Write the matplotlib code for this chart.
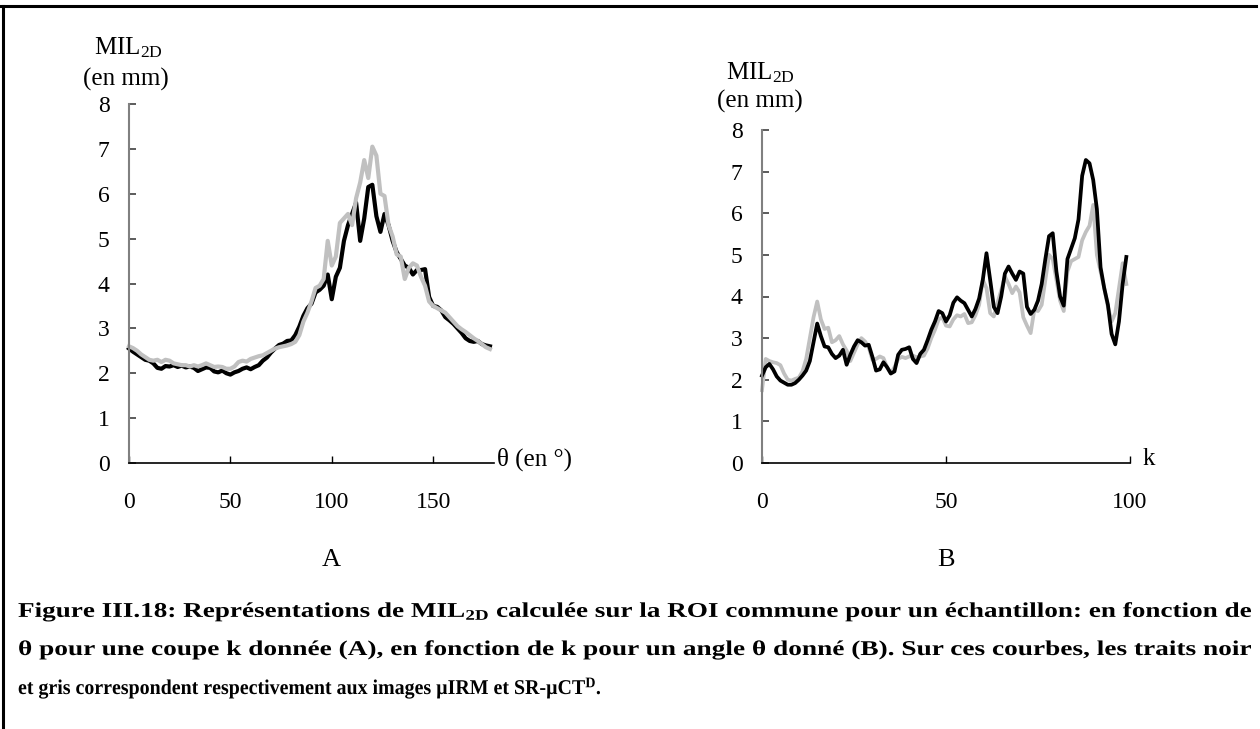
import matplotlib.pyplot as plt
import matplotlib.transforms as mtransforms
from matplotlib.lines import Line2D
from matplotlib.patches import PathPatch
from matplotlib.textpath import TextPath
from matplotlib.font_manager import FontProperties

plt.rcParams['font.family'] = ['Liberation Serif', 'DejaVu Serif']
plt.rcParams['mathtext.fontset'] = 'custom'
plt.rcParams['mathtext.rm'] = 'Liberation Serif'
plt.rcParams['mathtext.it'] = 'Liberation Serif:italic'
plt.rcParams['mathtext.bf'] = 'Liberation Serif:bold'

# MIL2D as a function of theta (slice k fixed)
theta = list(range(0, 180, 2))
mil_theta_irm = [2.55, 2.48, 2.42, 2.36, 2.30, 2.28, 2.22, 2.12, 2.10, 2.16,
                 2.15, 2.18, 2.14, 2.17, 2.13, 2.15, 2.12, 2.05, 2.09, 2.13,
                 2.12, 2.04, 2.02, 2.06, 2.00, 1.97, 2.02, 2.05, 2.10, 2.13,
                 2.09, 2.14, 2.18, 2.28, 2.35, 2.46, 2.55, 2.63, 2.66, 2.72,
                 2.73, 2.85, 3.04, 3.28, 3.45, 3.55, 3.80, 3.86, 3.95, 4.20,
                 3.65, 4.15, 4.35, 4.95, 5.30, 5.55, 5.80, 4.95, 5.45, 6.15,
                 6.20, 5.50, 5.15, 5.55, 5.30, 4.95, 4.70, 4.55, 4.40, 4.35,
                 4.20, 4.30, 4.30, 4.32, 3.70, 3.50, 3.48, 3.40, 3.25, 3.18,
                 3.10, 3.00, 2.90, 2.78, 2.72, 2.70, 2.72, 2.65, 2.62, 2.60]
mil_theta_ct = [2.60, 2.56, 2.50, 2.42, 2.36, 2.30, 2.28, 2.30, 2.25, 2.30,
                2.28, 2.22, 2.20, 2.18, 2.18, 2.15, 2.18, 2.15, 2.18, 2.22,
                2.18, 2.14, 2.15, 2.14, 2.10, 2.10, 2.15, 2.25, 2.28, 2.26,
                2.32, 2.35, 2.38, 2.40, 2.45, 2.50, 2.55, 2.58, 2.60, 2.62,
                2.65, 2.70, 2.85, 3.15, 3.35, 3.60, 3.90, 3.95, 4.10, 4.95,
                4.40, 4.60, 5.35, 5.45, 5.55, 5.30, 5.90, 6.25, 6.75, 6.35,
                7.05, 6.85, 6.00, 5.95, 5.30, 5.05, 4.65, 4.60, 4.10, 4.35,
                4.45, 4.40, 4.15, 3.95, 3.60, 3.50, 3.45, 3.40, 3.35, 3.25,
                3.15, 3.05, 2.98, 2.92, 2.85, 2.78, 2.72, 2.65, 2.58, 2.54]

# MIL2D as a function of slice k (angle theta fixed)
k = list(range(0, 100))
mil_k_irm = [2.10, 2.30, 2.38, 2.25, 2.08, 1.98, 1.93, 1.88, 1.88, 1.92,
             2.00, 2.10, 2.22, 2.45, 2.90, 3.35, 3.05, 2.80, 2.78, 2.62,
             2.52, 2.58, 2.72, 2.36, 2.60, 2.80, 2.95, 2.90, 2.82, 2.84,
             2.55, 2.22, 2.25, 2.42, 2.30, 2.15, 2.20, 2.60, 2.72, 2.74,
             2.78, 2.50, 2.40, 2.62, 2.72, 2.95, 3.20, 3.40, 3.65, 3.60,
             3.40, 3.55, 3.85, 3.98, 3.90, 3.84, 3.68, 3.52, 3.70, 3.95,
             4.40, 5.04, 4.40, 3.75, 3.60, 4.00, 4.55, 4.72, 4.55, 4.40,
             4.60, 4.55, 3.75, 3.58, 3.68, 3.90, 4.30, 4.90, 5.45, 5.52,
             4.60, 4.00, 3.78, 4.90, 5.15, 5.40, 5.85, 6.90, 7.28, 7.20,
             6.80, 6.10, 4.70, 4.20, 3.80, 3.10, 2.85, 3.40, 4.30, 4.95]
mil_k_ct = [1.75, 2.50, 2.45, 2.42, 2.40, 2.35, 2.15, 2.00, 1.98, 2.02,
            2.05, 2.20, 2.50, 3.00, 3.50, 3.88, 3.45, 3.22, 3.25, 2.90,
            2.95, 3.05, 2.85, 2.70, 2.45, 2.65, 2.85, 3.00, 2.92, 2.78,
            2.48, 2.50, 2.56, 2.52, 2.30, 2.15, 2.30, 2.50, 2.55, 2.52,
            2.56, 2.58, 2.54, 2.56, 2.58, 2.75, 3.00, 3.20, 3.45, 3.50,
            3.30, 3.28, 3.45, 3.55, 3.52, 3.58, 3.36, 3.38, 3.55, 3.80,
            4.40, 4.20, 3.60, 3.52, 3.85, 4.15, 4.48, 4.30, 4.08, 4.24,
            4.10, 3.50, 3.30, 3.12, 3.68, 3.65, 3.80, 4.40, 5.00, 4.90,
            4.40, 3.90, 3.65, 4.60, 4.85, 4.90, 4.95, 5.35, 5.55, 5.70,
            6.20, 5.00, 4.60, 4.20, 3.75, 3.40, 3.60, 4.20, 4.80, 4.30]

y_ticks = list(range(0, 9))
theta_ticks = [0, 50, 100, 150]
k_ticks = [0, 50, 100]

W, H = 1260, 729
fig = plt.figure(figsize=(W / 100, H / 100), dpi=100)


def px_box(x0, x1, y_top, y_bot):
    return [x0 / W, 1 - y_bot / H, (x1 - x0) / W, (y_bot - y_top) / H]


def fx(x):
    return x / W


def fy(y):
    return 1 - y / H


def style_axes(ax, xmax, xticks):
    ax.set_xlim(0, xmax)
    ax.set_ylim(0, 8)
    ax.patch.set_visible(False)
    for s in ('top', 'right'):
        ax.spines[s].set_visible(False)
    ax.spines['left'].set_color('#808080')
    ax.spines['left'].set_linewidth(1.5)
    ax.spines['bottom'].set_color('black')
    ax.spines['bottom'].set_linewidth(1.2)
    ax.set_xticks(xticks)
    ax.set_yticks(y_ticks)
    ax.tick_params(axis='y', direction='in', length=5, width=1.2,
                   color='#404040', pad=14, labelsize=17)
    ax.tick_params(axis='x', direction='in', length=5, width=1.0,
                   color='black', pad=21, labelsize=17)


ax_a = fig.add_axes(px_box(129, 494, 104, 463))
ax_a.plot(theta, mil_theta_irm, color='black', lw=3.0, clip_on=False)
ax_a.plot(theta, mil_theta_ct, color='#c0c0c0', lw=3.0, clip_on=False)
style_axes(ax_a, 180, theta_ticks)

ax_b = fig.add_axes(px_box(762, 1130, 130, 463))
ax_b.plot(k, mil_k_ct, color='#c0c0c0', lw=2.7, clip_on=False)
ax_b.plot(k, mil_k_irm, color='black', lw=2.7, clip_on=False)
style_axes(ax_b, 100, k_ticks)

# axis titles
fig.text(fx(128), fy(48), r'MIL$_{\mathrm{2D}}$', ha='center', va='center', fontsize=18)
fig.text(fx(126), fy(79), '(en mm)', ha='center', va='center', fontsize=18)
fig.text(fx(760), fy(73), r'MIL$_{\mathrm{2D}}$', ha='center', va='center', fontsize=18)
fig.text(fx(760), fy(101), '(en mm)', ha='center', va='center', fontsize=18)
fig.text(fx(497), fy(459), 'θ (en °)', ha='left', va='center', fontsize=18)
fig.text(fx(1143), fy(459), 'k', ha='left', va='center', fontsize=18)

fig.text(fx(331), fy(560), 'A', ha='center', va='center', fontsize=19)
fig.text(fx(946), fy(560), 'B', ha='center', va='center', fontsize=19)

# caption: bold serif, each line drawn as a path stretched between x0 and x1
cap_prop = FontProperties(family='Liberation Serif', weight='bold')
cap_size = 21  # px


def caption_line(s, x0, y_base, x1):
    tp = TextPath((0, 0), s, size=cap_size, prop=cap_prop)
    sx = (x1 - x0) / tp.get_extents().x1
    tr = mtransforms.Affine2D().scale(sx, 1).translate(x0, H - y_base)
    fig.add_artist(PathPatch(tp, transform=tr, facecolor='black',
                             edgecolor='none', lw=0))


caption_line(r'Figure III.18: Représentations de MIL$_{\mathbf{2D}}$ calculée sur la ROI '
             r'commune pour un échantillon: en fonction de', 18, 617, 1251)
caption_line('θ pour une coupe k donnée (A), en fonction de k pour un angle θ donné (B). '
             'Sur ces courbes, les traits noir', 18, 655, 1251)
caption_line(r'et gris correspondent respectivement aux images µIRM et SR-µCT$^{\mathbf{D}}$.',
             18, 694, 600)

# page frame
fig.add_artist(Line2D([0, fx(1256)], [fy(6), fy(6)], color='black', lw=2.2))
fig.add_artist(Line2D([fx(3), fx(3)], [fy(6), 0], color='black', lw=2.2))

fig.savefig('out.png', dpi=100)
